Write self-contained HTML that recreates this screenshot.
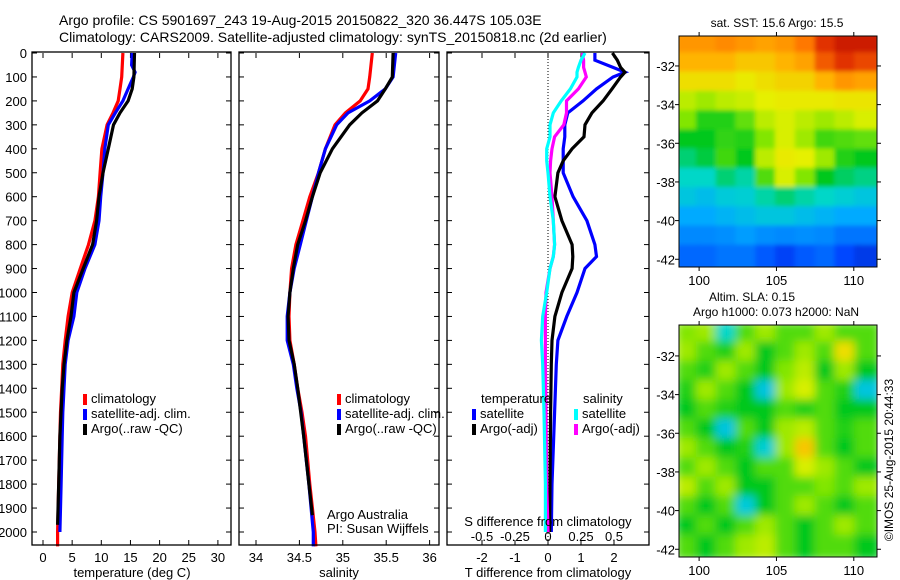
<!DOCTYPE html>
<html><head><meta charset="utf-8">
<style>
html,body{margin:0;padding:0;background:#fff;}
svg{display:block;font-family:"Liberation Sans",sans-serif;}
text{fill:#000;}
</style></head>
<body>
<svg id="c" width="900" height="580" viewBox="0 0 900 580" xmlns="http://www.w3.org/2000/svg">
<defs>
<clipPath id="clipSST"><rect x="679" y="36" width="198" height="231"/></clipPath>
<clipPath id="clipSLA"><rect x="679" y="325" width="198" height="232"/></clipPath>
<filter id="blurS" x="-5%" y="-5%" width="110%" height="110%"><feGaussianBlur stdDeviation="2"/></filter>
<filter id="blurL" x="-5%" y="-5%" width="110%" height="110%"><feGaussianBlur stdDeviation="4.5"/></filter>
</defs>
<text x="59" y="25" font-size="14">Argo profile: CS 5901697_243 19-Aug-2015 20150822_320 36.447S 105.03E</text>
<text x="59" y="42" font-size="14">Climatology: CARS2009. Satellite-adjusted climatology: synTS_20150818.nc (2d earlier)</text>
<g id="g"></g>
</svg>
<script>
// ---------- data ----------
const depthT = [0,100,150,200,250,300,400,500,600,700,800,900,1000,1100,1200,1300,1400,1500,1600,1800,2000,2060];
const tempClim = [13.7,13.5,13.2,12.9,12.0,11.0,10.1,9.8,9.5,8.9,7.8,6.4,5.0,4.3,3.8,3.4,3.2,3.0,2.9,2.7,2.5,2.5];
const depthTB = [0,50,80,100,150,200,250,300,400,500,600,700,800,900,1000,1100,1200,1300,1400,1500,1600,1800,2000];
const tempSat = [15.3,15.2,15.8,15.5,14.6,13.7,12.4,11.2,10.6,10.3,9.9,9.6,8.9,7.2,5.8,5.3,4.3,3.8,3.6,3.4,3.3,3.1,2.9];
const depthTA = [0,100,150,200,250,300,400,500,600,700,800,900,1000,1100,1200,1300,1400,1600,1800,1970];
const tempArgo = [15.7,15.6,15.3,14.6,13.2,12.1,11.2,10.3,9.6,9.2,8.5,6.9,5.3,4.8,4.1,3.6,3.3,2.9,2.7,2.5];

const depthS = [0,100,150,200,250,300,400,500,600,700,800,900,1000,1100,1200,1300,1400,1500,1600,1800,2000,2060];
const salClim = [35.34,35.31,35.29,35.2,35.03,34.91,34.8,34.72,34.62,34.54,34.46,34.41,34.39,34.38,34.39,34.44,34.48,34.53,34.57,34.62,34.68,34.69];
const salSat = [35.61,35.58,35.49,35.31,35.06,34.93,34.8,34.72,34.65,34.58,34.51,34.44,34.39,34.36,34.36,34.43,34.47,34.52,34.55,34.61,34.66,34.66];
const depthSA = [0,100,150,200,250,300,400,500,600,700,800,900,1000,1100,1200,1300,1400,1600,1800,1930];
const salArgo = [35.58,35.57,35.49,35.4,35.22,35.08,34.88,34.74,34.65,34.57,34.48,34.43,34.39,34.37,34.38,34.44,34.48,34.55,34.61,34.65];

const depthD = [0,30,60,80,100,150,200,250,300,350,400,450,500,600,700,800,850,900,1000,1100,1200,1300,1500,1800,2000];
const dTArgo = [1.95,2.1,2.2,2.33,2.2,1.94,1.67,1.33,1.12,1.09,0.73,0.46,0.3,0.21,0.42,0.73,0.75,0.73,0.42,0.21,0.12,0.1,0.08,0.06,0.05];
const dTSat = [1.42,1.42,1.97,2.33,1.97,1.47,1.06,0.6,0.51,0.51,0.46,0.46,0.46,0.76,1.18,1.42,1.47,1.12,0.88,0.57,0.3,0.25,0.2,0.12,0.1];
const dSSat = [0.28,0.25,0.23,0.22,0.22,0.17,0.1,0.04,0.015,0.015,-0.01,-0.01,0,0.015,0.04,0.05,0.04,0.015,-0.01,-0.04,-0.05,-0.04,-0.03,-0.02,-0.02];
const dSArgo = [0.26,0.27,0.27,0.28,0.29,0.23,0.14,0.14,0.12,0.05,0.03,0.02,0.015,0.03,0.04,0.05,0.04,0.015,-0.015,-0.02,-0.02,-0.02,-0.015,-0.01,0];

const depthTicks = [0,100,200,300,400,500,600,700,800,900,1000,1100,1200,1300,1400,1500,1600,1700,1800,1900,2000];
const tempTicks = [0,5,10,15,20,25,30];
const salTicks = [34,34.5,35,35.5,36];
const dTTicks = [-2,-1,0,1,2];
const dSTicks = [-0.5,-0.25,0,0.25,0.5];
const latTicks = [-32,-34,-36,-38,-40,-42];
const lonTicks = [100,105,110];

const sstGrid = [
[0.8,0.8,0.82,0.8,0.78,0.8,0.85,0.92,0.95,0.95],
[0.75,0.75,0.75,0.72,0.72,0.75,0.78,0.88,0.92,0.9],
[0.68,0.68,0.68,0.66,0.68,0.7,0.7,0.75,0.8,0.78],
[0.62,0.6,0.62,0.63,0.65,0.66,0.66,0.66,0.67,0.67],
[0.58,0.52,0.52,0.56,0.62,0.64,0.62,0.6,0.62,0.64],
[0.5,0.5,0.53,0.52,0.58,0.64,0.6,0.54,0.55,0.56],
[0.45,0.48,0.54,0.5,0.62,0.66,0.65,0.6,0.52,0.5],
[0.4,0.4,0.45,0.42,0.55,0.64,0.58,0.5,0.46,0.44],
[0.36,0.34,0.37,0.38,0.42,0.45,0.42,0.4,0.38,0.36],
[0.3,0.3,0.32,0.34,0.36,0.36,0.34,0.32,0.3,0.3],
[0.25,0.25,0.26,0.28,0.26,0.25,0.26,0.25,0.22,0.22],
[0.2,0.2,0.22,0.22,0.18,0.14,0.18,0.2,0.15,0.12]];
const slaGrid = [
[0.58,0.6,0.4,0.55,0.6,0.55,0.55,0.6,0.55,0.55],
[0.6,0.55,0.52,0.6,0.5,0.55,0.6,0.55,0.68,0.55],
[0.55,0.52,0.6,0.55,0.5,0.58,0.62,0.5,0.6,0.5],
[0.52,0.6,0.55,0.5,0.36,0.6,0.64,0.55,0.52,0.36],
[0.5,0.55,0.52,0.5,0.5,0.55,0.52,0.55,0.5,0.5],
[0.55,0.5,0.36,0.55,0.5,0.6,0.62,0.55,0.52,0.55],
[0.6,0.55,0.5,0.52,0.38,0.6,0.72,0.55,0.5,0.55],
[0.55,0.6,0.55,0.5,0.55,0.55,0.64,0.6,0.55,0.5],
[0.62,0.55,0.6,0.5,0.5,0.55,0.55,0.58,0.55,0.6],
[0.55,0.5,0.55,0.37,0.5,0.55,0.6,0.55,0.5,0.55],
[0.5,0.55,0.5,0.55,0.6,0.55,0.5,0.55,0.6,0.55],
[0.55,0.5,0.55,0.6,0.62,0.55,0.5,0.55,0.55,0.5]];

// ---------- helpers ----------
const NS="http://www.w3.org/2000/svg";
const G=document.getElementById('g');
function mk(tag,attrs,parent){const e=document.createElementNS(NS,tag);for(const k in attrs)e.setAttribute(k,attrs[k]);(parent||G).appendChild(e);return e;}
function txt(x,y,s,size,anchor,parent){const e=mk('text',{x:x,y:y,'font-size':size||13,'text-anchor':anchor||'middle'},parent);e.textContent=s;return e;}
const yD = d => 53 + d*0.2395;
const PT = {x0:32,x1:231}, PS={x0:239,x1:439}, PD={x0:447,x1:649};
const Y0=53, Y1=545;
const xT = v => 43 + v*5.83;
const xS = v => 256 + (v-34)*86.8;
const xdT = v => 548 + v*33;
const xdS = v => 548 + v*132;

function frame(p,name){
  const r=mk('rect',{x:p.x0,y:Y0-1,width:p.x1-p.x0,height:Y1-Y0+1,fill:'none',stroke:'#000','stroke-width':1.3});
  
  
}
function line(xs,ds,fx,color,name){
  let pts='';
  for(let i=0;i<xs.length;i++){pts+=fx(xs[i]).toFixed(1)+','+yD(ds[i]).toFixed(1)+' ';}
  const e=mk('polyline',{points:pts,fill:'none',stroke:color,'stroke-width':3.2,'stroke-linejoin':'miter'});
  
  
}
function xticks(p,ticks,fx,ly,labels){
  ticks.forEach((t,i)=>{
    const x=fx(t);
    mk('line',{x1:x,x2:x,y1:Y1,y2:Y1-5,stroke:'#000'});
    mk('line',{x1:x,x2:x,y1:Y0,y2:Y0+5,stroke:'#000'});
    const e=txt(x,ly,labels?labels[i]:String(t),13);
    
    
  });
}
function yticks(p){
  depthTicks.forEach(d=>{
    const y=yD(d);
    mk('line',{x1:p.x0,x2:p.x0+5,y1:y,y2:y,stroke:'#000'});
    mk('line',{x1:p.x1,x2:p.x1-5,y1:y,y2:y,stroke:'#000'});
  });
}
function legendEntry(x,y,color,label){
  const r=mk('rect',{x:x,y:y-9,width:4,height:11,fill:color});
  
  
  const t=txt(x+8,y,label,13,'start');
  
  
}

// ---------- panel 1: temperature ----------
depthTicks.forEach(d=>{
  const t=txt(27,yD(d)+5,String(d),13,'end');
  
  
});
yticks(PT);
xticks(PT,tempTicks,xT,562);
line(tempClim,depthT,xT,'#ff0000','temp-climatology-line');
line(tempSat,depthTB,xT,'#0000ff','temp-satellite-line');
line(tempArgo,depthTA,xT,'#000000','temp-argo-line');
frame(PT,'temperature-panel');
const xl1=txt(132,577,'temperature (deg C)',13);


legendEntry(83,403,'#ff0000','climatology');
legendEntry(83,418,'#0000ff','satellite-adj. clim.');
legendEntry(83,433,'#000000','Argo(..raw -QC)');

// ---------- panel 2: salinity ----------
yticks(PS);
xticks(PS,salTicks,xS,562);
line(salClim,depthS,xS,'#ff0000','sal-climatology-line');
line(salSat,depthS,xS,'#0000ff','sal-satellite-line');
line(salArgo,depthSA,xS,'#000000','sal-argo-line');
frame(PS,'salinity-panel');
const xl2=txt(339,577,'salinity',13);


legendEntry(337,403,'#ff0000','climatology');
legendEntry(337,418,'#0000ff','satellite-adj. clim.');
legendEntry(337,433,'#000000','Argo(..raw -QC)');
const a1=txt(327,519,'Argo Australia',13,'start');


const a2=txt(327,533,'PI: Susan Wijffels',13,'start');



// ---------- panel 3: differences ----------
yticks(PD);
dTTicks.forEach(t=>{const x=xdT(t);mk('line',{x1:x,x2:x,y1:Y1,y2:Y1-5,stroke:'#000'});mk('line',{x1:x,x2:x,y1:Y0,y2:Y0+5,stroke:'#000'});
  const e=txt(x,562,String(t),13);});
dSTicks.forEach(t=>{const e=txt(xdS(t),541,String(t),13);});
const zl=mk('line',{x1:548,x2:548,y1:Y0,y2:Y1,stroke:'#000','stroke-dasharray':'1,2'});


line(dTSat,depthD,xdT,'#0000ff','dT-satellite-line');
line(dTArgo,depthD,xdT,'#000000','dT-argo-line');
line(dSArgo,depthD,xdS,'#ff00ff','dS-argo-line');
line(dSSat,depthD,xdS,'#00ffff','dS-satellite-line');
frame(PD,'difference-panel');
const sl=txt(548,526,'S difference from climatology',13);


const tl=txt(548,577,'T difference from climatology',13);


const lt=txt(481,403,'temperature',13,'start');
const ls=txt(583,403,'salinity',13,'start');
legendEntry(472,418,'#0000ff','satellite');
legendEntry(472,433,'#000000','Argo(-adj)');
legendEntry(574,418,'#00ffff','satellite');
legendEntry(574,433,'#ff00ff','Argo(-adj)');

// ---------- maps ----------
const cmapStops=[[0,[0,10,140]],[0.15,[0,70,255]],[0.3,[0,170,255]],[0.4,[0,215,200]],[0.5,[0,200,30]],[0.58,[130,230,0]],[0.65,[230,240,0]],[0.75,[255,180,0]],[0.85,[255,120,0]],[0.92,[225,50,0]],[1,[170,0,0]]];
function cmap(v){
  v=Math.max(0,Math.min(1,v));
  for(let i=1;i<cmapStops.length;i++){
    if(v<=cmapStops[i][0]){const a=cmapStops[i-1],b=cmapStops[i];const f=(v-a[0])/(b[0]-a[0]);
      const c=a[1].map((q,k)=>Math.round(q+(b[1][k]-q)*f));return 'rgb('+c.join(',')+')';}
  }
  return 'rgb(170,0,0)';
}
function drawMap(grid,top,bottom,latTop,latBot,clip,filter,name){
  const left=679,right=877,lonL=98.7,lonR=111.5;
  const fx=lon=>left+(lon-lonL)/(lonR-lonL)*(right-left);
  const fy=lat=>top+(latTop-lat)/(latTop-latBot)*(bottom-top);
  const outer=mk('g',{'clip-path':'url(#'+clip+')'});
  
  
  const inner=mk('g',{filter:'url(#'+filter+')'},outer);
  const rows=grid.length, cols=grid[0].length;
  const dLat=(latTop-latBot)/rows, dLon=(lonR-lonL)/cols;
  for(let r=0;r<rows;r++)for(let c=0;c<cols;c++){
    const x=fx(lonL+c*dLon), y=fy(latTop-r*dLat);
    const cell=mk('rect',{x:x-3,y:y-3,width:fx(lonL+(c+1)*dLon)-x+6,height:fy(latTop-(r+1)*dLat)-y+6,fill:cmap(grid[r][c])},inner);
    
    
  }
  const fr=mk('rect',{x:left,y:top,width:right-left,height:bottom-top,fill:'none',stroke:'#000','stroke-width':1});
  
  
  latTicks.forEach(l=>{const y=fy(l);mk('line',{x1:left-4,x2:left,y1:y,y2:y,stroke:'#000'});mk('line',{x1:right,x2:right+4,y1:y,y2:y,stroke:'#000'});
    const t=txt(left-4,y+5,String(l),13,'end');});
  lonTicks.forEach(l=>{const x=fx(l);mk('line',{x1:x,x2:x,y1:bottom,y2:bottom+4,stroke:'#000'});mk('line',{x1:x,x2:x,y1:top-4,y2:top,stroke:'#000'});
    const t=txt(x,bottom+18,String(l),13);});
}
drawMap(sstGrid,36,267,-30.45,-42.4,'clipSST','blurS','sst-map');
drawMap(slaGrid,325,557,-30.4,-42.4,'clipSLA','blurL','sla-map');
const m1=txt(777,27,'sat. SST: 15.6 Argo: 15.5',12);
const m2=txt(752,301,'Altim. SLA: 0.15',12);
const m3=txt(776,316,'Argo h1000: 0.073 h2000: NaN',12);
const cp=txt(0,0,'©IMOS 25-Aug-2015 20:44:33',12);
cp.setAttribute('transform','translate(893,460) rotate(-90)');


</script>
</body></html>
